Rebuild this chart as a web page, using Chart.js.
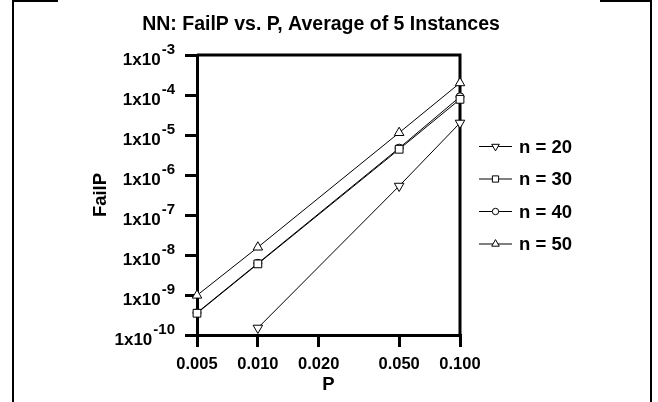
<!DOCTYPE html>
<html><head><meta charset="utf-8">
<script src="https://cdn.jsdelivr.net/npm/chart.js@4.4.1/dist/chart.umd.min.js"></script>
<style>html,body{margin:0;padding:0;background:#fff;}#c{display:block}</style>
</head><body>
<canvas id="c" width="658" height="402"></canvas>
<script>
// ---- data ----
const pValues = [0.005, 0.010, 0.050, 0.100];
const xTickValues = [0.005, 0.010, 0.020, 0.050, 0.100];
const yTickExponents = [-10, -9, -8, -7, -6, -5, -4, -3];
const seriesNames = ['n = 20', 'n = 30', 'n = 40', 'n = 50'];
const failN20 = [null, 1.5e-10, 5.3e-7, 2.0e-5];
const failN30 = [3.5e-10, 6.0e-9, 4.4e-6, 7.8e-5];
const failN40 = [3.6e-10, 6.2e-9, 4.7e-6, 9.0e-5];
const failN50 = [9.8e-10, 1.56e-8, 1.14e-5, 2.0e-4];
const chartTitle = 'NN: FailP vs. P, Average of 5 Instances';

const FONT = "'Liberation Sans', Arial, Helvetica, sans-serif";
const toPts = arr => pValues.map((p, i) => ({x: p, y: arr[i]})).filter(d => d.y !== null);

const markerStyles = [
  {pointStyle: 'triangle', rotation: 180, radius: 5.5},
  {pointStyle: 'rect', rotation: 0, radius: 5.5},
  {pointStyle: 'circle', rotation: 0, radius: 4},
  {pointStyle: 'triangle', rotation: 0, radius: 5.5}
];
const allSeries = [failN20, failN30, failN40, failN50];

const datasets = allSeries.map((arr, i) => ({
  label: seriesNames[i],
  data: toPts(arr),
  borderColor: '#000',
  borderWidth: 1,
  backgroundColor: '#fff',
  pointBackgroundColor: '#fff',
  pointBorderColor: '#000',
  pointBorderWidth: 1,
  pointStyle: markerStyles[i].pointStyle,
  pointRotation: markerStyles[i].rotation,
  pointRadius: markerStyles[i].radius,
  pointHoverRadius: markerStyles[i].radius,
  tension: 0,
  fill: false,
  clip: false
}));

const decor = {
  id: 'decor',
  beforeDraw(chart) {
    const ctx = chart.ctx;
    ctx.save();
    ctx.fillStyle = '#fff';
    ctx.fillRect(0, 0, chart.width, chart.height);
    // outer page frame
    ctx.strokeStyle = '#000';
    ctx.lineWidth = 2;
    ctx.beginPath();
    ctx.moveTo(13, 402); ctx.lineTo(13, 1); ctx.lineTo(58, 1);
    ctx.moveTo(600, 1); ctx.lineTo(651, 1); ctx.lineTo(651, 402);
    ctx.stroke();
    ctx.restore();
  },
  beforeDatasetsDraw(chart) {
    const ctx = chart.ctx, a = chart.chartArea;
    ctx.save();
    ctx.strokeStyle = '#000';
    ctx.lineWidth = 3;
    ctx.beginPath();
    ctx.moveTo(a.left, a.top); ctx.lineTo(a.right, a.top); ctx.lineTo(a.right, a.bottom);
    ctx.stroke();
    ctx.restore();
  },
  afterDraw(chart) {
    const ctx = chart.ctx;
    ctx.save();
    ctx.fillStyle = '#000';
    // title
    ctx.font = 'bold 19.5px ' + FONT;
    ctx.textAlign = 'center';
    ctx.textBaseline = 'alphabetic';
    ctx.fillText(chartTitle, 321, 30);
    // y tick labels with superscripts
    const sy = chart.scales.y;
    const baseFont = 'bold 17px ' + FONT, supFont = 'bold 15px ' + FONT;
    yTickExponents.forEach(e => {
      const y = sy.getPixelForValue(Math.pow(10, e));
      const sup = String(e);
      ctx.font = supFont;
      const sw = ctx.measureText(sup).width;
      ctx.textAlign = 'right';
      ctx.textBaseline = 'middle';
      ctx.fillText(sup, 175, y - 5);
      ctx.font = baseFont;
      ctx.fillText('1x10', 175 - sw - 1, y + 5);
    });
    // legend
    const lx0 = 479, lx1 = 512, tx = 519, ly0 = 146.5, dy = 32.5;
    chart.data.datasets.forEach((ds, i) => {
      const y = ly0 + i * dy;
      ctx.strokeStyle = '#000';
      ctx.lineWidth = 1;
      ctx.beginPath();
      ctx.moveTo(lx0, y); ctx.lineTo(lx1, y);
      ctx.stroke();
      ctx.fillStyle = '#fff';
      ctx.strokeStyle = '#000';
      Chart.helpers.drawPoint(ctx, {
        pointStyle: ds.pointStyle, rotation: ds.pointRotation,
        radius: ds.pointRadius * 0.8, borderWidth: 1
      }, (lx0 + lx1) / 2, y);
      ctx.fillStyle = '#000';
      ctx.font = 'bold 18.5px ' + FONT;
      ctx.textAlign = 'left';
      ctx.textBaseline = 'middle';
      ctx.fillText(ds.label, tx, y + 1);
    });
    ctx.restore();
  }
};

new Chart(document.getElementById('c'), {
  type: 'line',
  data: {datasets},
  options: {
    responsive: false,
    animation: false,
    devicePixelRatio: 1,
    layout: {padding: {top: 55, right: 198, left: 0, bottom: 0}},
    plugins: {legend: {display: false}, title: {display: false}, tooltip: {enabled: false}},
    events: [],
    scales: {
      x: {
        type: 'logarithmic',
        min: 0.005, max: 0.1,
        afterBuildTicks: s => { s.ticks = xTickValues.map(v => ({value: v})); },
        afterFit: s => { s.height = 67; },
        ticks: {
          autoSkip: false, maxRotation: 0, minRotation: 0,
          color: '#000', padding: 8,
          font: {family: FONT, size: 16.5, weight: 'bold'},
          callback: v => Number(v).toFixed(3)
        },
        grid: {drawOnChartArea: false, drawTicks: true, tickLength: 12, tickWidth: 3, tickColor: '#000', color: '#000', lineWidth: 3},
        border: {display: true, width: 3, color: '#000'},
        title: {display: true, text: 'P', color: '#000', font: {family: FONT, size: 18.5, weight: 'bold'}, padding: {top: 0, bottom: 6}}
      },
      y: {
        type: 'logarithmic',
        min: 1e-10, max: 1e-3,
        afterBuildTicks: s => { s.ticks = yTickExponents.map(e => ({value: Math.pow(10, e)})); },
        afterFit: s => { s.width = 197; },
        ticks: {display: false},
        grid: {drawOnChartArea: false, drawTicks: true, tickLength: 12, tickWidth: 3, tickColor: '#000', color: '#000', lineWidth: 3},
        border: {display: true, width: 3, color: '#000'},
        title: {display: true, text: 'FailP', color: '#000', font: {family: FONT, size: 18.5, weight: 'bold'}, padding: {top: 90, bottom: 0}}
      }
    }
  },
  plugins: [decor]
});
</script>
</body></html>
